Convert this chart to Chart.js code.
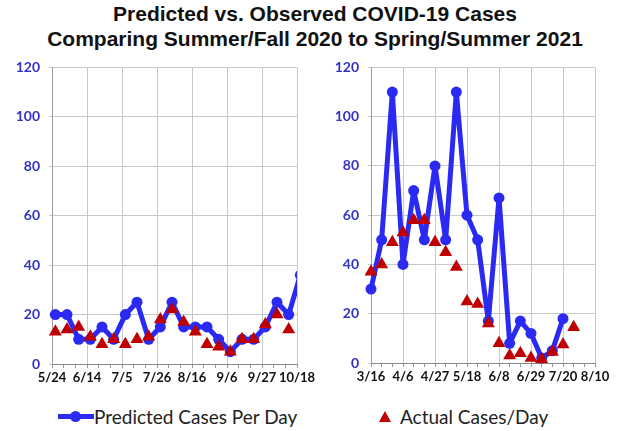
<!DOCTYPE html>
<html>
<head>
<meta charset="utf-8">
<script src="https://cdn.jsdelivr.net/npm/chart.js@4.4.1/dist/chart.umd.min.js"></script>
<style>
  html, body { margin: 0; padding: 0; background: #fff; }
  body { width: 617px; height: 431px; position: relative; overflow: hidden; }
  #title {
    position: absolute; left: 0; top: 1px; width: 630px; text-align: center;
    font-family: "Liberation Sans", Arial, sans-serif; font-weight: bold;
    font-size: 21px; line-height: 25px; color: #111;
  }
  canvas { position: absolute; }
  #leftCanvas { left: 0; top: 50px; }
  #rightCanvas { left: 300px; top: 50px; }
  .legend-item {
    position: absolute; top: 405px; height: 22px; display: flex; align-items: center;
    font-family: Lato, "Open Sans", sans-serif; font-size: 19px; color: #222;
  }
  .line-icon { position: relative; width: 36px; height: 5px; background: #2a2af2; margin-right: 0; }
  .line-icon::after {
    content: ""; position: absolute; left: 12px; top: -3px; width: 11px; height: 11px;
    border-radius: 50%; background: #2a2af2;
  }
  .tri-icon {
    width: 0; height: 0; border-left: 6px solid transparent; border-right: 6px solid transparent;
    border-bottom: 11px solid #c00000; margin-right: 9px;
  }
</style>
</head>
<body>
<div id="title">Predicted vs. Observed COVID-19 Cases<br>Comparing Summer/Fall 2020 to Spring/Summer 2021</div>
<canvas id="leftCanvas" width="320" height="345"></canvas>
<canvas id="rightCanvas" width="317" height="345"></canvas>
<div class="legend-item" style="left:58px;"><span class="line-icon"></span>Predicted Cases Per Day</div>
<div class="legend-item" style="left:379px;"><span class="tri-icon"></span>Actual Cases/Day</div>

<script>
// Summer/Fall 2020 (weekly)
const leftTickLabels = ["5/24", "6/14", "7/5", "7/26", "8/16", "9/6", "9/27", "10/18"];
const leftDates = ["5/26", "6/2", "6/9", "6/16", "6/23", "6/30", "7/7", "7/14", "7/21", "7/28", "8/4",
  "8/11", "8/18", "8/25", "9/1", "9/8", "9/15", "9/22", "9/29", "10/6", "10/13", "10/20"];
const leftPredicted = [20, 20, 10, 10, 15, 10, 20, 25, 10, 15, 25, 15, 15, 15, 10, 5, 10, 10, 15, 25, 20, 36];
const leftActual = [13, 14, 15, 11, 8, 10, 8, 10, 11, 18, 22, 17, 13, 8, 7, 5, 10, 10, 16, 20, 14];

// Spring/Summer 2021 (weekly)
const rightTickLabels = ["3/16", "4/6", "4/27", "5/18", "6/8", "6/29", "7/20", "8/10"];
const rightDates = ["3/16", "3/23", "3/30", "4/6", "4/13", "4/20", "4/27", "5/4", "5/11", "5/18",
  "5/25", "6/1", "6/8", "6/15", "6/22", "6/29", "7/6", "7/13", "7/20", "7/27"];
const rightPredicted = [30, 50, 110, 40, 70, 50, 80, 50, 110, 60, 50, 17, 67, 8, 17, 12, 2, 5, 18];
const rightActual = [37, 40, 49, 53, 58, 58, 49, 45, 39, 25, 24, 16, 8, 3, 4, 2, 1.5, 4.5, 7.5, 14.5];

const yTicks = [0, 20, 40, 60, 80, 100, 120];

const BLUE = "#2a2af2";
const RED = "#c00000";

function dayOf(md) {
  const [m, d] = md.split("/").map(Number);
  return Date.UTC(2020, m - 1, d) / 86400000;
}

function toPoints(dates, values, start) {
  return values.map((v, i) => ({ x: dayOf(dates[i]) - dayOf(start), y: v }));
}

function makeChart(canvasId, opts) {
  const start = opts.tickLabels[0];
  const span = dayOf(opts.tickLabels[opts.tickLabels.length - 1]) - dayOf(start);

  return new Chart(document.getElementById(canvasId), {
    type: "line",
    data: {
      datasets: [
        {
          label: "Actual Cases/Day",
          data: toPoints(opts.dates, opts.actual, start),
          showLine: false,
          pointStyle: "triangle",
          pointRadius: 7.5,
          backgroundColor: RED,
          borderColor: RED,
          pointBorderWidth: 0,
          order: 0,
          clip: { left: 8, top: 8, right: 8, bottom: 8 },
        },
        {
          label: "Predicted Cases Per Day",
          data: toPoints(opts.dates, opts.predicted, start),
          borderColor: BLUE,
          backgroundColor: BLUE,
          borderWidth: 5,
          borderJoinStyle: "round",
          borderCapStyle: "round",
          pointRadius: 5.5,
          pointBorderWidth: 0,
          tension: 0,
          order: 1,
          clip: { left: 6, top: 6, right: 0, bottom: 6 },
        },
      ],
    },
    options: {
      responsive: false,
      animation: false,
      events: [],
      layout: { autoPadding: false, padding: opts.padding },
      plugins: { legend: { display: false }, tooltip: { enabled: false } },
      scales: {
        x: {
          type: "linear",
          min: 0,
          max: span,
          afterFit: (scale) => { scale.height = opts.xHeight; },
          border: { color: "#888", width: 1 },
          grid: {
            color: (ctx) => (ctx.tick && Math.round(ctx.tick.value) % 21 === 0 ? "#c8c8c8" : "rgba(0,0,0,0)"),
            tickColor: "#999",
            tickLength: 4,
          },
          ticks: {
            stepSize: 7,
            maxTicksLimit: 40,
            autoSkip: false,
            maxRotation: 0,
            padding: 2,
            color: "#111",
            font: { family: "Lato, 'Open Sans', sans-serif", size: 13, weight: "bold" },
            callback: (value) => {
              const v = Math.round(value);
              return v % 21 === 0 ? opts.tickLabels[v / 21] : "";
            },
          },
        },
        y: {
          min: yTicks[0],
          max: yTicks[yTicks.length - 1],
          afterFit: (scale) => { scale.width = opts.yWidth; },
          border: { color: "#999", width: 1 },
          grid: { color: "#c8c8c8", tickLength: 3 },
          afterBuildTicks: (scale) => { scale.ticks = yTicks.map((v) => ({ value: v })); },
          ticks: {
            padding: 9,
            color: "#3232c8",
            font: { family: "Lato, 'Open Sans', sans-serif", size: 14, weight: "bold" },
          },
        },
      },
    },
  });
}

makeChart("leftCanvas", {
  tickLabels: leftTickLabels,
  dates: leftDates,
  predicted: leftPredicted,
  actual: leftActual,
  padding: { left: 0, top: 14, right: 23, bottom: 0 },
  yWidth: 52,
  xHeight: 31,
});

makeChart("rightCanvas", {
  tickLabels: rightTickLabels,
  dates: rightDates,
  predicted: rightPredicted,
  actual: rightActual,
  padding: { left: 0, top: 15, right: 22, bottom: 0 },
  yWidth: 71,
  xHeight: 32,
});
</script>
</body>
</html>
